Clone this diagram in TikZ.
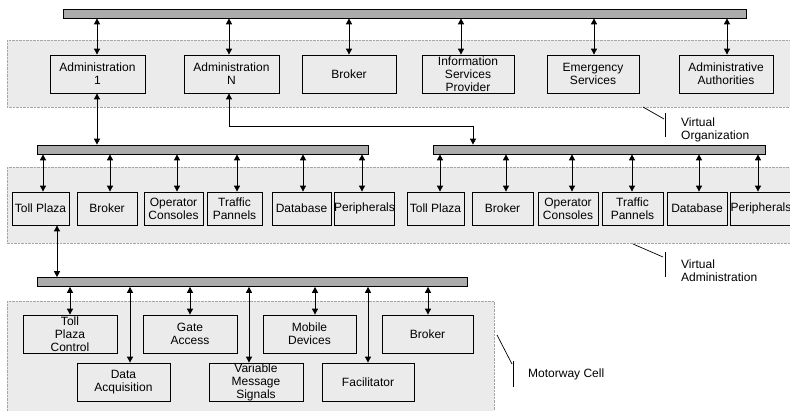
\documentclass[tikz,border=0pt]{standalone}
\usepackage{fontspec}
\setmainfont{Liberation Sans}
\usetikzlibrary{arrows.meta}
\begin{document}
\begin{tikzpicture}[x=1pt,y=-1pt,
  font=\fontsize{12}{13}\selectfont,
  box/.style={draw=black, line width=0.8pt, inner sep=0pt, align=center},
  tbox/.style={box, minimum height=38pt},
  mbox/.style={box, minimum height=33pt},
  bus/.style={draw=black, fill=gray!65, line width=0.7pt, inner sep=0pt, minimum height=9pt},
  region/.style={draw=gray!70, densely dotted, fill=gray!16},
  arr/.style={{Triangle[length=6pt,width=6pt]}-{Triangle[length=6pt,width=6pt]}, line width=0.9pt},
  lbl/.style={align=left, anchor=west, inner sep=0pt},
  pointer/.style={line width=0.7pt}]
\useasboundingbox (0,0) rectangle (790,410);
\clip (0,0) rectangle (790,410);
\fill[white] (0,0) rectangle (790,410);

% regions
\draw[region] (7,40) rectangle (800,107);
\draw[region] (7,167) rectangle (800,243);
\draw[region] (7,301) rectangle (494,415);

% buses
\node[bus, minimum width=683pt] (bus1) at (404.5,13.5) {};
\node[bus, minimum width=331pt] (busL) at (202.5,149.5) {};
\node[bus, minimum width=332pt] (busR) at (599,149.5) {};
\node[bus, minimum width=430pt] (busB) at (252,282) {};

% top row
\node[tbox, minimum width=95pt] (adm1) at (97.5,74) {Administration\\1};
\node[tbox, minimum width=95pt] (admN) at (231.5,74) {Administration\\N};
\node[tbox, minimum width=94pt] (brk) at (349,74) {Broker};
\node[tbox, minimum width=92pt] (isp) at (468,74) {Information\\Services\\Provider};
\node[tbox, minimum width=92pt] (ems) at (593,74) {Emergency\\Services};
\node[tbox, minimum width=94pt] (aa) at (726,74) {Administrative\\Authorities};

\draw[arr] (bus1.south -| 97,0) -- (adm1.north -| 97,0);
\draw[arr] (bus1.south -| 229,0) -- (admN.north -| 229,0);
\draw[arr] (bus1.south -| 349,0) -- (brk.north -| 349,0);
\draw[arr] (bus1.south -| 461,0) -- (isp.north -| 461,0);
\draw[arr] (bus1.south -| 594,0) -- (ems.north -| 594,0);
\draw[arr] (bus1.south -| 727,0) -- (aa.north -| 727,0);

\draw[arr] (adm1.south -| 97,0) -- (busL.north -| 97,0);
\coordinate (bend) at (473,126);
\draw[arr] (admN.south -| 229,0) |- (bend) -- (bend |- busR.north);

% middle left
\node[mbox, minimum width=57pt] (tp1) at (40.5,208.5) {Toll Plaza};
\node[mbox, minimum width=60pt] (br1) at (107,208.5) {Broker};
\node[mbox, minimum width=59pt] (oc1) at (173.5,208.5) {Operator\\Consoles};
\node[mbox, minimum width=55pt] (tr1) at (234.5,208.5) {Traffic\\Pannels};
\node[mbox, minimum width=59pt] (db1) at (301.5,208.5) {Database};
\node[mbox, minimum width=60pt] (pe1) at (364.5,208.5) {Peripherals};

\draw[arr] (busL.south -| 43,0) -- (tp1.north -| 43,0);
\draw[arr] (busL.south -| 110,0) -- (br1.north -| 110,0);
\draw[arr] (busL.south -| 177,0) -- (oc1.north -| 177,0);
\draw[arr] (busL.south -| 237,0) -- (tr1.north -| 237,0);
\draw[arr] (busL.south -| 303,0) -- (db1.north -| 303,0);
\draw[arr] (busL.south -| 362,0) -- (pe1.north -| 362,0);

% middle right
\node[mbox, minimum width=57pt] (tp2) at (435.5,208.5) {Toll Plaza};
\node[mbox, minimum width=61pt] (br2) at (502.5,208.5) {Broker};
\node[mbox, minimum width=60pt] (oc2) at (568,208.5) {Operator\\Consoles};
\node[mbox, minimum width=61pt] (tr2) at (632.5,208.5) {Traffic\\Pannels};
\node[mbox, minimum width=60pt] (db2) at (697,208.5) {Database};
\node[mbox, minimum width=60pt] (pe2) at (761,208.5) {Peripherals};

\draw[arr] (busR.south -| 440,0) -- (tp2.north -| 440,0);
\draw[arr] (busR.south -| 506,0) -- (br2.north -| 506,0);
\draw[arr] (busR.south -| 572,0) -- (oc2.north -| 572,0);
\draw[arr] (busR.south -| 632,0) -- (tr2.north -| 632,0);
\draw[arr] (busR.south -| 699,0) -- (db2.north -| 699,0);
\draw[arr] (busR.south -| 758,0) -- (pe2.north -| 758,0);

\draw[arr] (tp1.south -| 57,0) -- (busB.north -| 57,0);

% bottom
\node[tbox, minimum width=94pt] (tpc) at (70,334) {Toll\\Plaza\\Control};
\node[tbox, minimum width=94pt] (ga) at (190,334) {Gate\\Access};
\node[tbox, minimum width=93pt] (md) at (309.5,334) {Mobile\\Devices};
\node[tbox, minimum width=91pt] (br3) at (427.5,334) {Broker};
\node[tbox, minimum width=93pt] (da) at (123.5,382) {Data\\Acquisition};
\node[tbox, minimum width=94pt] (vms) at (256,382) {Variable\\Message\\Signals};
\node[tbox, minimum width=92pt] (fac) at (368,382) {Facilitator};

\draw[arr] (busB.south -| 70,0) -- (tpc.north -| 70,0);
\draw[arr] (busB.south -| 130,0) -- (da.north -| 130,0);
\draw[arr] (busB.south -| 190,0) -- (ga.north -| 190,0);
\draw[arr] (busB.south -| 249,0) -- (vms.north -| 249,0);
\draw[arr] (busB.south -| 315,0) -- (md.north -| 315,0);
\draw[arr] (busB.south -| 368,0) -- (fac.north -| 368,0);
\draw[arr] (busB.south -| 428,0) -- (br3.north -| 428,0);

% labels
\draw[pointer] (643,107) -- (664,119);
\draw[pointer] (665,113) -- (665,137);
\node[lbl] (vo) at (681,130) {Virtual\\Organization};

\draw[pointer] (633,244) -- (663,257);
\draw[pointer] (665,252) -- (665,277);
\node[lbl] (va) at (681,271) {Virtual\\Administration};

\draw[pointer] (497,335) -- (512,364);
\draw[pointer] (513,361) -- (513,387);
\node[lbl] (mc) at (528,374) {Motorway Cell};
\end{tikzpicture}
\end{document}
